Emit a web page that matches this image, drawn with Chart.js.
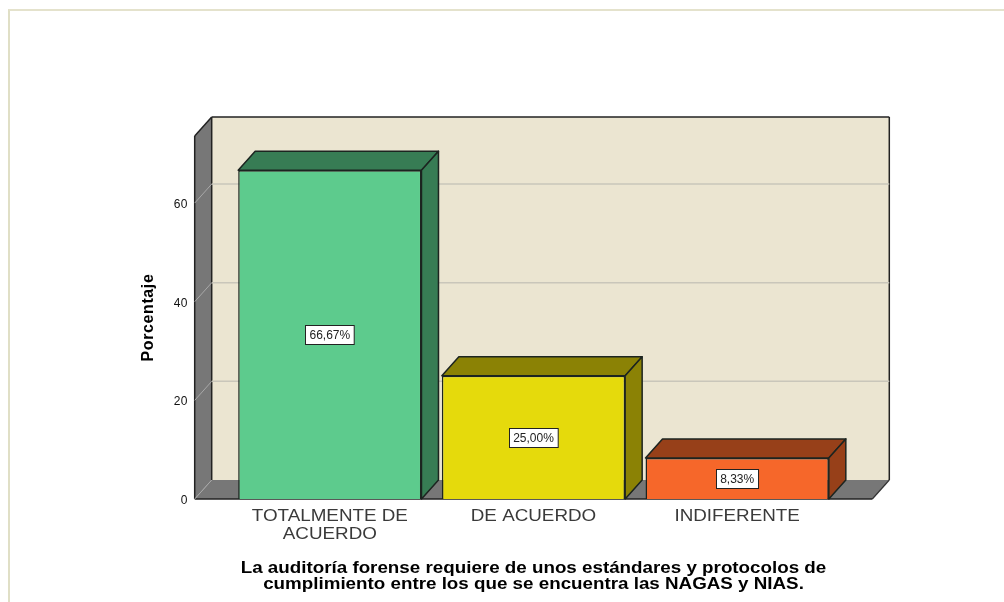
<!DOCTYPE html>
<html>
<head>
<meta charset="utf-8">
<style>
html,body{margin:0;padding:0;background:#fff;width:1004px;height:602px;overflow:hidden}
#frame{position:absolute;left:8px;top:9px;width:1000px;height:600px;border-left:2px solid #e0dfc6;border-top:2px solid #e4e2cc}
canvas{position:absolute;left:0;top:0}
</style>
<script src="https://cdn.jsdelivr.net/npm/chart.js@4/dist/chart.umd.min.js"></script>
</head>
<body>
<div id="frame"></div>
<canvas id="c" width="1004" height="602"></canvas>
<script>
const categories = [["TOTALMENTE DE","ACUERDO"],"DE ACUERDO","INDIFERENTE"];
const porcentajes = [66.67,25.00,8.33];
const etiquetas = ["66,67%","25,00%","8,33%"];
const coloresFrente = ["#5dcb8d","#e5da0c","#f6672a"];
const coloresSombra = ["#377c54","#8b8205","#974019"];
const yMax = 73.6;
const yTicks = [0,20,40,60];
const depthX = 17, depthY = 19;
const xTitle = ["La auditoría forense requiere de unos estándares y protocolos de","cumplimiento entre los que se encuentra las NAGAS y NIAS."];
const FONT = '"Liberation Sans", Arial, sans-serif';

function poly(ctx, pts, fill, stroke, lw){
  ctx.beginPath();
  pts.forEach((p,i)=> i?ctx.lineTo(p[0],p[1]):ctx.moveTo(p[0],p[1]));
  ctx.closePath();
  if(fill){ctx.fillStyle=fill;ctx.fill();}
  if(stroke){ctx.strokeStyle=stroke;ctx.lineWidth=lw||1;ctx.stroke();}
}
function seg(ctx,x1,y1,x2,y2,c,w){
  ctx.strokeStyle=c;ctx.lineWidth=w;
  ctx.beginPath();ctx.moveTo(x1,y1);ctx.lineTo(x2,y2);ctx.stroke();
}
// The reference's text is horizontally stretched: widen each text run around its own anchor.
function stretched(scale,method,factor){
  const orig=scale[method];
  scale[method]=function(a){
    const ctx=this.ctx, fill=ctx.fillText;
    ctx.fillText=function(t,x,y,m){
      ctx.save();
      ctx.translate(x,0);ctx.scale(factor,1);ctx.translate(-x,0);
      if(m===undefined) fill.call(ctx,t,x,y); else fill.call(ctx,t,x,y,m);
      ctx.restore();
    };
    orig.call(this,a);
    delete ctx.fillText;
  };
}
function spaced(scale,method,spacing){
  const orig=scale[method];
  scale[method]=function(a){
    const ctx=this.ctx;
    ctx.letterSpacing=spacing;
    orig.call(this,a);
    ctx.letterSpacing='0px';
  };
}

const textStyle = {
  id:'textStyle',
  beforeDraw(chart){
    if(chart.$styled) return;
    chart.$styled=true;
    stretched(chart.scales.x,'drawLabels',1.107);
    stretched(chart.scales.x,'drawTitle',1.174);
    spaced(chart.scales.y,'drawTitle','0.6px');
    spaced(chart.scales.y,'drawLabels','0.5px');
  }
};

const room3d = {
  id:'room3d',
  beforeDatasetsDraw(chart){
    const ctx=chart.ctx, y=chart.scales.y, x=chart.scales.x;
    const yb=y.getPixelForValue(0), yt=y.getPixelForValue(yMax);
    const step=x.getPixelForValue(1)-x.getPixelForValue(0);
    const l=x.getPixelForValue(0)-step*0.6635, r=x.getPixelForValue(2)+step*0.6635;
    const dark='#222', wall='#777777';
    ctx.save();
    ctx.lineJoin='round';
    // back wall
    poly(ctx,[[l+depthX,yt-depthY],[r+depthX,yt-depthY],[r+depthX,yb-depthY],[l+depthX,yb-depthY]],'#ebe5d1');
    // left wall and floor
    poly(ctx,[[l,yt],[l+depthX,yt-depthY],[l+depthX,yb-depthY],[l,yb]],wall);
    poly(ctx,[[l,yb],[l+depthX,yb-depthY],[r+depthX,yb-depthY],[r,yb]],wall);
    // edges
    seg(ctx,l,yb,l,yt,dark,1.5);
    seg(ctx,l,yt,l+depthX,yt-depthY,dark,1.5);
    seg(ctx,l+depthX,yt-depthY,r+depthX,yt-depthY,dark,1.5);
    seg(ctx,l+depthX,yt-depthY,l+depthX,yb-depthY,dark,1.5);
    seg(ctx,r+depthX,yt-depthY,r+depthX,yb-depthY,dark,1.5);
    seg(ctx,r+depthX,yb-depthY,r,yb,'#333',1.2);
    seg(ctx,l,yb,r,yb,dark,1.5);
    seg(ctx,l,yb,l+depthX,yb-depthY,'#a8a8a8',1);
    // gridlines
    yTicks.forEach(v=>{
      if(v===0) return;
      const p=y.getPixelForValue(v);
      seg(ctx,l+depthX,p-depthY,r+depthX,p-depthY,'#c9c6ba',1.5);
      seg(ctx,l,p,l+depthX,p-depthY,'#a8a8a8',1);
    });
    // bar tops and sides
    chart.getDatasetMeta(0).data.forEach((b,i)=>{
      const hw=b.width/2, L=b.x-hw, R=b.x+hw, T=b.y, B=b.base;
      poly(ctx,[[L,T],[L+depthX,T-depthY],[R+depthX,T-depthY],[R,T]],coloresSombra[i],'#1c2420',1.5);
      poly(ctx,[[R,T],[R+depthX,T-depthY],[R+depthX,B-depthY],[R,B]],coloresSombra[i],'#1c2420',1.5);
    });
    ctx.restore();
  },
  afterDatasetsDraw(chart){
    const ctx=chart.ctx;
    ctx.save();
    ctx.font='12px '+FONT;
    ctx.textAlign='center';ctx.textBaseline='middle';
    chart.getDatasetMeta(0).data.forEach((b,i)=>{
      const cy=(b.y+b.base)/2, w=ctx.measureText(etiquetas[i]).width+8, h=19;
      const bx=Math.round(b.x-w/2)+.5, by=Math.round(cy-h/2)+.5;
      ctx.fillStyle='#fff';ctx.strokeStyle='#222';ctx.lineWidth=1;
      ctx.fillRect(bx,by,w,h);ctx.strokeRect(bx,by,w,h);
      ctx.fillStyle='#222';
      ctx.fillText(etiquetas[i],b.x,by+h/2+.5);
    });
    ctx.restore();
  }
};

new Chart(document.getElementById('c'),{
  type:'bar',
  data:{labels:categories,datasets:[{
    data:porcentajes,backgroundColor:coloresFrente,borderColor:'#1c2420',borderWidth:1.5,
    categoryPercentage:1,barPercentage:0.9
  }]},
  plugins:[textStyle,room3d],
  options:{
    responsive:false,animation:false,
    layout:{padding:{left:0,right:165,top:136,bottom:0}},
    plugins:{legend:{display:false},tooltip:{enabled:false},title:{display:false}},
    scales:{
      x:{
        afterFit(s){s.height=103;},
        grid:{display:false,drawTicks:false},border:{display:false},
        ticks:{padding:8,maxRotation:0,autoSkip:false,color:'#3a3a3a',font:{family:FONT,size:17,lineHeight:1.06}},
        title:{display:true,text:xTitle,color:'#000',padding:{top:0,bottom:9},font:{family:FONT,size:16,weight:'bold',lineHeight:1}}
      },
      y:{
        min:0,max:yMax,
        afterFit(s){s.width=228;},
        afterBuildTicks(s){s.ticks=yTicks.map(v=>({value:v}));},
        grid:{display:false,drawTicks:false},border:{display:false},
        ticks:{padding:40,labelOffset:1.5,color:'#111',font:{family:FONT,size:12}},
        title:{display:true,text:'Porcentaje',color:'#000',padding:{top:140,bottom:0},font:{family:FONT,size:16,weight:'bold',lineHeight:1.125}}
      }
    }
  }
});
</script>
</body>
</html>
